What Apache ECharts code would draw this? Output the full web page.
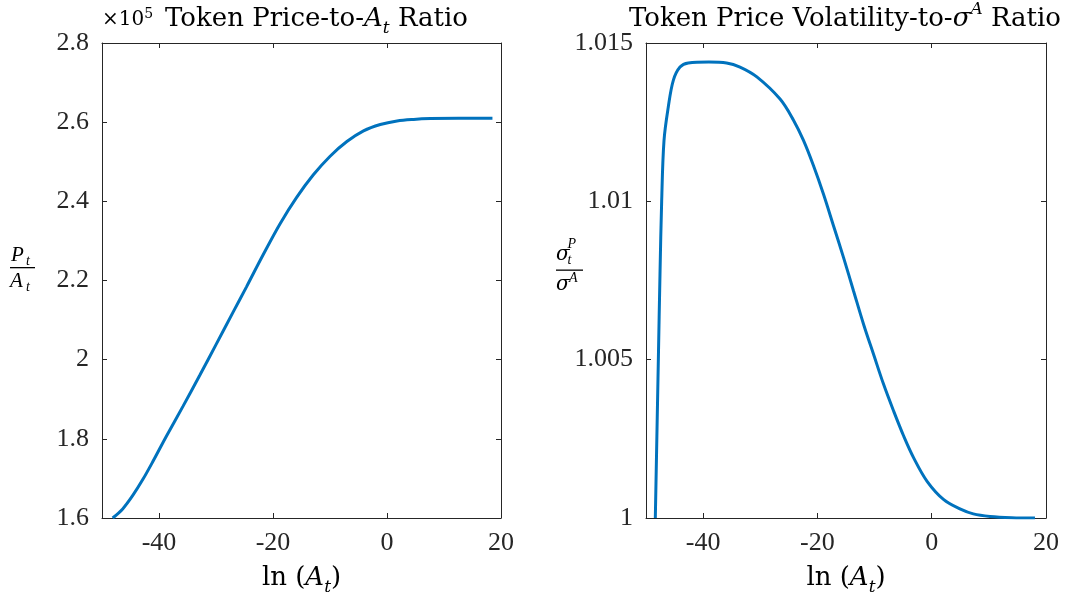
<!DOCTYPE html>
<html>
<head>
<meta charset="utf-8">
<script src="https://cdn.jsdelivr.net/npm/echarts@6/dist/echarts.min.js"></script>
<style>html,body{margin:0;padding:0;background:#fff}#c{width:1076px;height:596px}</style>
</head>
<body>
<div id="c"></div>
<script>
// ---- data ----
const lnA_price = [-48.13, -46.37, -44.6, -42.85, -41.1, -38.73, -35.8, -32.87, -29.93, -27.0, -24.65, -21.73, -18.78, -15.85, -12.92, -9.98, -7.04, -4.12, -1.18, 1.76, 4.68, 7.62, 12.5, 18.5];
const priceRatio = [160000, 162300, 165700, 169700, 174200, 180600, 188200, 196000, 204000, 212000, 218400, 226500, 234300, 241000, 246700, 251400, 255100, 257800, 259400, 260300, 260700, 260900, 261000, 261000];

const lnA_vol = [-48.37, -47.84, -47.55, -47.26, -46.85, -46.1, -45.22, -44.05, -42.6, -39.0, -35.9, -33.55, -30.6, -26.54, -24.21, -22.46, -20.7, -18.95, -17.19, -15.44, -13.68, -11.93, -10.18, -8.42, -6.67, -4.91, -3.16, -0.81, 2.11, 5.04, 7.28, 10.2, 14.0, 18.07];
const volRatio = [1.0, 1.00499, 1.00771, 1.00999, 1.01192, 1.01298, 1.01382, 1.01424, 1.01437, 1.0144, 1.01437, 1.01424, 1.01393, 1.01323, 1.01257, 1.01193, 1.01113, 1.01023, 1.00923, 1.00823, 1.00717, 1.00612, 1.00517, 1.00422, 1.00338, 1.00259, 1.0019, 1.00116, 1.00058, 1.00028, 1.00013, 1.00005, 1.00001, 1.0];

const xTicks = [-40, -20, 0, 20];
const yTicksPrice = [160000, 180000, 200000, 220000, 240000, 260000, 280000];
const yTicksVol = [1, 1.005, 1.01, 1.015];
const yTickLabelsVol = ['1', '1.005', '1.01', '1.015'];

const FONT = 'Liberation Serif';
const TFONT = 'DejaVu Serif';
const AX = '#262626';
const LINE = '#0072BD';

function zip(a, b) { return a.map((v, i) => [v, b[i]]); }

function xAx(grid, pos, labels) {
  return {
    type: 'value', gridIndex: grid, position: pos, min: -50, max: 20,
    axisLine: { show: true, onZero: false, lineStyle: { color: AX, width: 1 } },
    axisTick: { show: true, inside: true, length: 5, customValues: xTicks, lineStyle: { color: AX } },
    axisLabel: { show: labels, customValues: xTicks, margin: 12, color: AX, fontFamily: FONT, fontSize: 26 },
    splitLine: { show: false }
  };
}
function yAx(grid, pos, labels, min, max, ticks, fmt) {
  return {
    type: 'value', gridIndex: grid, position: pos, min: min, max: max,
    axisLine: { show: true, onZero: false, lineStyle: { color: AX, width: 1 } },
    axisTick: { show: true, inside: true, length: 5, customValues: ticks, lineStyle: { color: AX } },
    axisLabel: { show: labels, customValues: ticks, margin: 13, color: AX, fontFamily: FONT, fontSize: 26, formatter: fmt },
    splitLine: { show: false }
  };
}

const richBase = {
  r: { fontFamily: TFONT, fontSize: 26, lineHeight: 36, verticalAlign: 'middle', color: '#000' },
  i: { fontFamily: TFONT, fontSize: 26, fontStyle: 'italic', lineHeight: 36, verticalAlign: 'middle', color: '#000' },
  s: { fontFamily: TFONT, fontSize: 17, fontStyle: 'italic', lineHeight: 18, verticalAlign: 'bottom', color: '#000' },
  u: { fontFamily: TFONT, fontSize: 17, fontStyle: 'italic', lineHeight: 18, verticalAlign: 'top', color: '#000' },
  g: { fontFamily: TFONT, fontSize: 26, fontStyle: 'italic', lineHeight: 36, verticalAlign: 'middle', color: '#000' },
  sm: { fontFamily: TFONT, fontSize: 20, lineHeight: 26, verticalAlign: 'middle', color: '#262626' },
  smu: { fontFamily: TFONT, fontSize: 14, lineHeight: 14, verticalAlign: 'top', color: '#262626' }
};

function txt(x, y, text, font, align) {
  return { type: 'text', x: x, y: y, silent: true,
    style: { text: text, font: font, fill: '#000', align: align || 'left', verticalAlign: 'middle', textAlign: align || 'left', textVerticalAlign: 'middle' } };
}
function rtxt(x, y, text, align) {
  return { type: 'text', x: x, y: y, silent: true,
    style: { text: text, rich: richBase, align: align || 'center', verticalAlign: 'middle', textAlign: align || 'center', textVerticalAlign: 'middle' } };
}

const chart = echarts.init(document.getElementById('c'), null, { renderer: 'canvas' });
chart.setOption({
  backgroundColor: '#fff',
  animation: false,
  grid: [
    { left: 102, right: 575, top: 43, bottom: 78 },
    { left: 646, right: 30, top: 43, bottom: 78 }
  ],
  xAxis: [
    xAx(0, 'bottom', true), xAx(0, 'top', false),
    xAx(1, 'bottom', true), xAx(1, 'top', false)
  ],
  yAxis: [
    yAx(0, 'left', true, 160000, 280000, yTicksPrice, v => String(Math.round(v / 1e4) / 10)),
    yAx(0, 'right', false, 160000, 280000, yTicksPrice),
    yAx(1, 'left', true, 1, 1.015, yTicksVol, v => { const k = yTicksVol.findIndex(t => Math.abs(t - v) < 1e-9); return k >= 0 ? yTickLabelsVol[k] : ''; }),
    yAx(1, 'right', false, 1, 1.015, yTicksVol)
  ],
  series: [
    { type: 'line', xAxisIndex: 0, yAxisIndex: 0, data: zip(lnA_price, priceRatio), showSymbol: false, smooth: 0.35, lineStyle: { color: LINE, width: 3 }, itemStyle: { color: LINE } },
    { type: 'line', xAxisIndex: 2, yAxisIndex: 2, data: zip(lnA_vol, volRatio), showSymbol: false, smooth: 0.35, lineStyle: { color: LINE, width: 3 }, itemStyle: { color: LINE } }
  ],
  graphic: [
    // titles
    rtxt(316.5, 19, '{r|Token Price-to-}{i|A}{s|t}{r| Ratio}'),
    rtxt(845, 19, '{r|Token Price Volatility-to-}{g|σ}{u|A}{r| Ratio}'),
    rtxt(102, 20, '{sm|×10}{smu|5}', 'left'),
    // x labels
    rtxt(301.5, 578, '{r|ln}{r| (}{i|A}{s|t}{r|)}'),
    rtxt(846, 578, '{r|ln}{r| (}{i|A}{s|t}{r|)}'),
    // left y label: P_t / A_t
    txt(11, 255, 'P', 'italic 21px ' + FONT),
    txt(26, 261, 't', 'italic 14px ' + FONT),
    { type: 'rect', silent: true, shape: { x: 10, y: 267, width: 25, height: 1.3 }, style: { fill: '#000' } },
    txt(10, 281, 'A', 'italic 21px ' + FONT),
    txt(26, 287, 't', 'italic 14px ' + FONT),
    // right y label: sigma_t^P / sigma^A
    txt(556, 255, 'σ', 'italic 20px DejaVu Serif'),
    txt(567.5, 244, 'P', 'italic 14px ' + FONT),
    txt(567.5, 260, 't', 'italic 14px ' + FONT),
    { type: 'rect', silent: true, shape: { x: 556, y: 269.5, width: 27, height: 1.3 }, style: { fill: '#000' } },
    txt(556, 285, 'σ', 'italic 20px DejaVu Serif'),
    txt(569, 278, 'A', 'italic 14px ' + FONT)
  ]
});
</script>
</body>
</html>
